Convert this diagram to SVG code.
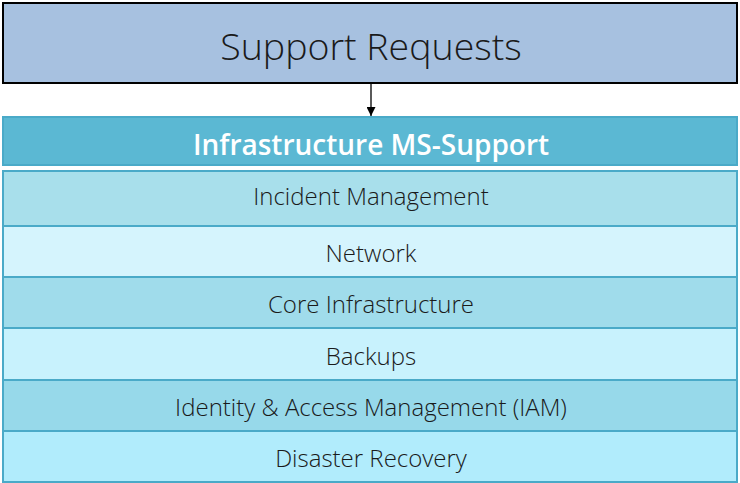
<svg xmlns="http://www.w3.org/2000/svg" width="740" height="483" viewBox="0 0 740 483">
  <style>
    .lbl { font-family: "Open Sans", "Noto Sans", "Liberation Sans", sans-serif; text-anchor: middle; fill: #1a1a1a; }
    .row { stroke: #4aaac8; stroke-width: 2; }
    .item { font-size: 24px; font-weight: 300; }
  </style>
  <defs>
    <marker id="arrow" viewBox="0 0 10 10" refX="10" refY="5" markerWidth="9" markerHeight="9" markerUnits="userSpaceOnUse" orient="auto">
      <path d="M0,0 L10,5 L0,10 z" fill="#000"/>
    </marker>
  </defs>

  <rect width="740" height="483" fill="#ffffff"/>

  <g id="support-requests">
    <rect x="3" y="3" width="734" height="80" fill="#a7c1e0" stroke="#000" stroke-width="2"/>
    <text class="lbl" x="371" y="60" font-size="37.5" font-weight="300">Support Requests</text>
  </g>

  <g id="connectors">
    <line x1="371" y1="84" x2="371" y2="116" stroke="#000" stroke-width="1.3" marker-end="url(#arrow)"/>
  </g>

  <g id="ms-support">
    <rect x="3" y="117" width="734" height="48" fill="#5bb8d3" stroke="#4aaac8" stroke-width="2"/>
    <text class="lbl" x="371" y="155" font-size="28" font-weight="600" style="fill:#ffffff">Infrastructure MS-Support</text>
  </g>

  <g id="incident-management">
    <rect class="row" x="3" y="171" width="734" height="55" fill="#a8dfeb"/>
    <text class="lbl item" x="371" y="205">Incident Management</text>
  </g>

  <g id="network">
    <rect class="row" x="3" y="226" width="734" height="51" fill="#d5f4fd"/>
    <text class="lbl item" x="371" y="262">Network</text>
  </g>

  <g id="core-infrastructure">
    <rect class="row" x="3" y="277" width="734" height="51" fill="#a0dceb"/>
    <text class="lbl item" x="371" y="313">Core Infrastructure</text>
  </g>

  <g id="backups">
    <rect class="row" x="3" y="328" width="734" height="52" fill="#c8f2fd"/>
    <text class="lbl item" x="371" y="365">Backups</text>
  </g>

  <g id="iam">
    <rect class="row" x="3" y="380" width="734" height="51" fill="#97d9ea"/>
    <text class="lbl item" x="371" y="416">Identity &amp; Access Management (IAM)</text>
  </g>

  <g id="disaster-recovery">
    <rect class="row" x="3" y="431" width="734" height="51" fill="#b1ecfc"/>
    <text class="lbl item" x="371" y="467">Disaster Recovery</text>
  </g>
</svg>
